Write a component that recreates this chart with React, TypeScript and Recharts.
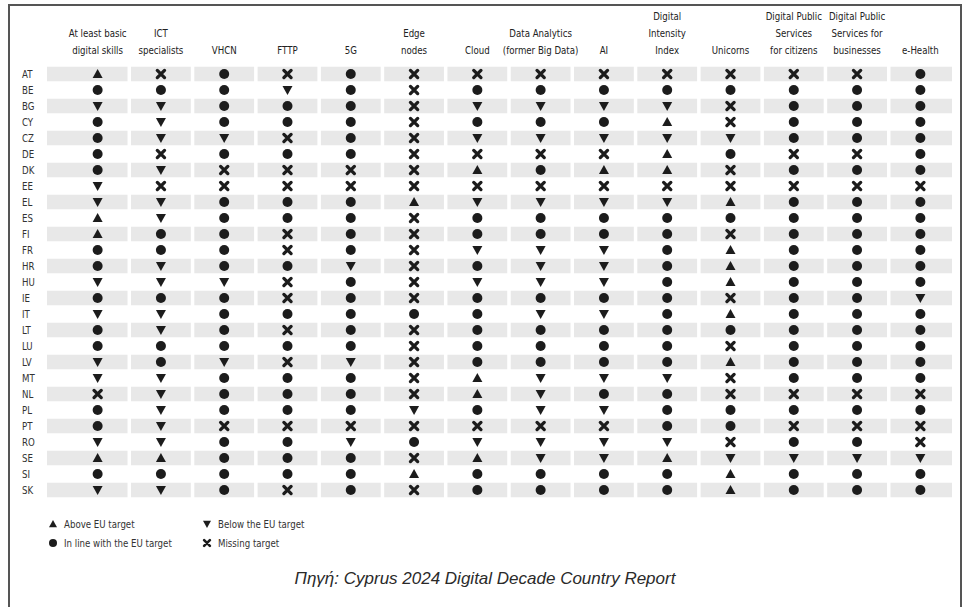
import { ScatterChart, Scatter, XAxis, YAxis, ReferenceArea, ReferenceLine } from 'recharts';

// U = above EU target, D = below, O = in line, X = missing target
const countries = ['AT', 'BE', 'BG', 'CY', 'CZ', 'DE', 'DK', 'EE', 'EL', 'ES', 'FI', 'FR', 'HR', 'HU', 'IE', 'IT', 'LT', 'LU', 'LV', 'MT', 'NL', 'PL', 'PT', 'RO', 'SE', 'SI', 'SK'];

const headers = [
  ['At least basic', 'digital skills'],
  ['ICT', 'specialists'],
  ['VHCN'],
  ['FTTP'],
  ['5G'],
  ['Edge', 'nodes'],
  ['Cloud'],
  ['Data Analytics', '(former Big Data)'],
  ['AI'],
  ['Digital', 'Intensity', 'Index'],
  ['Unicorns'],
  ['Digital Public', 'Services', 'for citizens'],
  ['Digital Public', 'Services for', 'businesses'],
  ['e-Health'],
];

const skills = ['U', 'O', 'D', 'O', 'O', 'O', 'O', 'D', 'D', 'U', 'U', 'O', 'O', 'D', 'O', 'D', 'O', 'O', 'D', 'D', 'X', 'O', 'O', 'D', 'U', 'O', 'D'];
const ict = ['X', 'O', 'D', 'D', 'D', 'X', 'D', 'X', 'D', 'D', 'O', 'O', 'D', 'D', 'O', 'D', 'D', 'O', 'O', 'D', 'D', 'D', 'D', 'D', 'U', 'O', 'D'];
const vhcn = ['O', 'O', 'O', 'O', 'D', 'O', 'X', 'X', 'O', 'O', 'O', 'O', 'O', 'D', 'O', 'O', 'O', 'O', 'D', 'O', 'O', 'O', 'X', 'O', 'O', 'O', 'O'];
const fttp = ['X', 'D', 'O', 'O', 'X', 'O', 'X', 'X', 'O', 'O', 'X', 'X', 'O', 'X', 'X', 'O', 'X', 'O', 'X', 'O', 'O', 'O', 'X', 'O', 'O', 'O', 'X'];
const fiveG = ['O', 'O', 'O', 'O', 'O', 'O', 'X', 'X', 'O', 'O', 'O', 'O', 'D', 'O', 'O', 'O', 'O', 'O', 'D', 'O', 'O', 'O', 'X', 'D', 'O', 'O', 'O'];
const edge = ['X', 'X', 'X', 'X', 'X', 'X', 'X', 'X', 'U', 'X', 'X', 'X', 'X', 'X', 'X', 'O', 'X', 'X', 'X', 'X', 'X', 'D', 'X', 'O', 'X', 'U', 'X'];
const cloud = ['X', 'O', 'D', 'O', 'D', 'X', 'U', 'X', 'D', 'O', 'O', 'D', 'O', 'D', 'O', 'O', 'O', 'O', 'O', 'U', 'U', 'O', 'X', 'D', 'U', 'O', 'O'];
const dataAnalytics = ['X', 'O', 'D', 'O', 'D', 'X', 'O', 'X', 'D', 'O', 'O', 'D', 'D', 'D', 'O', 'D', 'O', 'O', 'O', 'D', 'D', 'D', 'X', 'D', 'D', 'O', 'O'];
const ai = ['X', 'O', 'D', 'O', 'D', 'X', 'U', 'X', 'D', 'O', 'O', 'D', 'D', 'D', 'O', 'D', 'O', 'O', 'O', 'D', 'O', 'D', 'X', 'D', 'D', 'O', 'O'];
const intensity = ['X', 'O', 'D', 'U', 'D', 'U', 'U', 'X', 'D', 'O', 'O', 'O', 'O', 'O', 'O', 'O', 'O', 'O', 'O', 'D', 'O', 'O', 'O', 'D', 'U', 'O', 'O'];
const unicorns = ['X', 'O', 'X', 'X', 'D', 'O', 'X', 'X', 'U', 'O', 'X', 'U', 'U', 'U', 'X', 'U', 'O', 'X', 'U', 'X', 'X', 'O', 'O', 'X', 'D', 'U', 'U'];
const dpsCitizens = ['X', 'O', 'O', 'O', 'O', 'X', 'O', 'X', 'O', 'O', 'O', 'O', 'O', 'O', 'O', 'O', 'O', 'O', 'O', 'O', 'X', 'O', 'X', 'O', 'D', 'O', 'O'];
const dpsBusinesses = ['X', 'O', 'O', 'O', 'O', 'X', 'O', 'X', 'O', 'O', 'O', 'O', 'O', 'O', 'O', 'O', 'O', 'O', 'O', 'O', 'X', 'O', 'X', 'O', 'D', 'O', 'O'];
const eHealth = ['O', 'O', 'O', 'O', 'O', 'O', 'O', 'X', 'O', 'O', 'O', 'O', 'O', 'O', 'D', 'O', 'O', 'O', 'O', 'O', 'X', 'O', 'X', 'X', 'D', 'O', 'O'];

const columns = [skills, ict, vhcn, fttp, fiveG, edge, cloud, dataAnalytics, ai, intensity, unicorns, dpsCitizens, dpsBusinesses, eHealth];

const pointsFor = (code: string) =>
  columns.flatMap((col, x) => col.map((s, y) => ({ x, y, s })).filter((p) => p.s === code));

const INK = '#1c1c1c';
const HEAD_FONT = "'Liberation Sans Narrow', 'DejaVu Sans Condensed', sans-serif";

function drawMark(kind: string, cx: number, cy: number, k = 1) {
  if (kind === 'U') {
    return <polygon points={`${cx},${cy - 5 * k} ${cx + 5 * k},${cy + 4 * k} ${cx - 5 * k},${cy + 4 * k}`} fill={INK} />;
  }
  if (kind === 'D') {
    return <polygon points={`${cx - 5 * k},${cy - 4 * k} ${cx + 5 * k},${cy - 4 * k} ${cx},${cy + 5 * k}`} fill={INK} />;
  }
  if (kind === 'O') {
    return <circle cx={cx} cy={cy} r={5 * k} fill={INK} />;
  }
  const d = 3.6 * k;
  return (
    <path
      d={`M${cx - d},${cy - d}L${cx + d},${cy + d}M${cx + d},${cy - d}L${cx - d},${cy + d}`}
      stroke={INK}
      strokeWidth={3.3 * k}
      strokeLinecap="round"
    />
  );
}

const shape = (kind: string) => (props: any) => <g>{drawMark(kind, props.cx, props.cy)}</g>;

const HeaderTick = (props: any) => {
  const { x, payload } = props;
  const lines = headers[payload.value] || [];
  const n = lines.length;
  return (
    <text x={x} textAnchor="middle" fontSize={9.6} fill="#222" fontFamily={HEAD_FONT}>
      {lines.map((l, i) => (
        <tspan key={i} x={x} y={54 - (n - 1 - i) * 17}>
          {l}
        </tspan>
      ))}
    </text>
  );
};

const CountryTick = (props: any) => {
  const { y, payload } = props;
  return (
    <text x={22} y={y} dy={3.5} textAnchor="start" fontSize={9.6} fill="#333" fontFamily={HEAD_FONT}>
      {countries[payload.value]}
    </text>
  );
};

const legendItems = [
  { code: 'U', label: 'Above EU target', x: 53, y: 524 },
  { code: 'D', label: 'Below the EU target', x: 207, y: 524 },
  { code: 'O', label: 'In line with the EU target', x: 53, y: 543 },
  { code: 'X', label: 'Missing target', x: 207, y: 543 },
];

export default function App() {
  const rowsShaded = countries.map((_, i) => i).filter((i) => i % 2 === 0);
  const gaps = headers.slice(1).map((_, i) => i + 0.5);
  return (
    <div style={{ position: 'absolute', left: 0, top: 0, width: 973, height: 607, background: '#fff', overflow: 'hidden' }}>
      <ScatterChart width={973} height={607} margin={{ top: 6, right: 21, bottom: 109, left: 0 }}>
        <XAxis
          type="number"
          dataKey="x"
          orientation="top"
          domain={[-0.8, 13.5]}
          ticks={headers.map((_, i) => i)}
          height={60}
          axisLine={false}
          tickLine={false}
          tick={<HeaderTick />}
          interval={0}
          allowDataOverflow
        />
        <YAxis
          type="number"
          dataKey="y"
          domain={[-0.5, 26.5]}
          reversed
          ticks={countries.map((_, i) => i)}
          width={47}
          axisLine={false}
          tickLine={false}
          tick={<CountryTick />}
          interval={0}
          allowDataOverflow
        />
        {rowsShaded.map((i) => (
          <ReferenceArea key={`r${i}`} x1={-0.8} x2={13.5} y1={i - 0.46} y2={i + 0.46} fill="#e8e8e8" fillOpacity={1} stroke="none" />
        ))}
        {gaps.map((g) => (
          <ReferenceLine key={`g${g}`} x={g} stroke="#fff" strokeWidth={3.5} />
        ))}
        <Scatter data={pointsFor('U')} shape={shape('U')} isAnimationActive={false} />
        <Scatter data={pointsFor('D')} shape={shape('D')} isAnimationActive={false} />
        <Scatter data={pointsFor('O')} shape={shape('O')} isAnimationActive={false} />
        <Scatter data={pointsFor('X')} shape={shape('X')} isAnimationActive={false} />
      </ScatterChart>
      <svg width={973} height={607} style={{ position: 'absolute', left: 0, top: 0, pointerEvents: 'none' }}>
        {legendItems.map((it) => (
          <g key={it.code}>
            {drawMark(it.code, it.x, it.y, 0.8)}
            <text x={it.x + 11} y={it.y + 3.5} fontSize={9.6} fill="#333" fontFamily={HEAD_FONT}>
              {it.label}
            </text>
          </g>
        ))}
        <text x={485} y={584} textAnchor="middle" fontSize={17} fontStyle="italic" fill="#2a2a2a" fontFamily="'Liberation Sans', Arial, sans-serif">
          Πηγή: Cyprus 2024 Digital Decade Country Report
        </text>
      </svg>
      <div style={{ position: 'absolute', left: 8, top: 4, width: 954, height: 640, border: '2px solid #555', boxSizing: 'border-box' }} />
    </div>
  );
}
